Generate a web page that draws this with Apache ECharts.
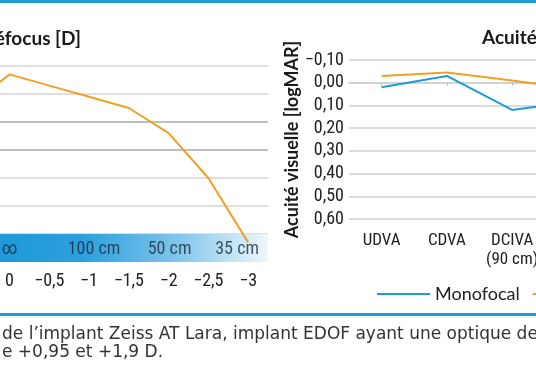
<!DOCTYPE html>
<html><head><meta charset="utf-8">
<script src="https://cdn.jsdelivr.net/npm/echarts@6/dist/echarts.min.js"></script>
<style>html,body{margin:0;padding:0;background:#fff}#c{width:536px;height:386px}</style>
</head><body><div id="c"></div>
<script>
// ---- data ----
const defocusD = [0.5, 0, -0.5, -1, -1.5, -2, -2.5, -3];
const defocusVA = [0.04, -0.07, -0.03, 0.01, 0.05, 0.14, 0.30, 0.53];
const bandLabels = ['∞', '100 cm', '50 cm', '35 cm'];
const bandD = [0, -1, -2, -3];
const vaCategories = ['UDVA', 'CDVA', 'DCIVA\n(90 cm)', 'DCNVA\n(40 cm)'];
const monofocalVA = [0.02, -0.03, 0.12, 0.08];
const atLaraVA = [-0.03, -0.045, -0.01, 0.03];
const seriesNames = ['Monofocal', 'AT LARA'];

// ---- styles ----
const BLUE = '#1f9bd7', ORANGE = '#f0a024', GRID = '#cfcfcf';
const COND = '"Roboto Condensed", "DejaVu Sans Condensed", sans-serif';
const HEAD = 'Lato, "Noto Sans", sans-serif';
const bandOffsets = [[0, 0], [5, 0], [1, 0], [-11, 0]];

function fmtD(v) {
  if (Math.abs(v * 2 - Math.round(v * 2)) > 1e-6) return '';
  if (v > 1e-6 || v < -3 - 1e-6) return '';
  if (Math.abs(v) < 1e-6) return '0';
  return '\u2212' + String(Math.abs(v)).replace('.', ',');
}
function fmtVA(v) {
  const s = Math.abs(v).toFixed(2).replace('.', ',');
  return (v < -1e-6 ? '\u2212' : '') + s;
}

const chart = echarts.init(document.getElementById('c'), null, {renderer: 'canvas'});
chart.setOption({
  animation: false,
  title: [
    {text: 'Courbe de défocus [D]', right: 450, top: 24,
     textStyle: {fontFamily: HEAD, fontWeight: 'bold', fontSize: 19, color: '#1a1a1a'}},
    {text: 'Acuité visuelle', left: 477, top: 23,
     textStyle: {fontFamily: HEAD, fontWeight: 'bold', fontSize: 19, color: '#1a1a1a'}}
  ],
  legend: {
    data: seriesNames, left: 372, top: 280, width: 500, icon: 'rect', itemWidth: 53, itemHeight: 2, itemGap: 13,
    textStyle: {fontFamily: HEAD, fontSize: 18, color: '#222'}
  },
  grid: [
    {left: -70, width: 338, top: 66, height: 196, outerBoundsMode: 'none', containLabel: false},
    {left: 349, width: 261, top: 60, height: 159, outerBoundsMode: 'none', containLabel: false}
  ],
  xAxis: [
    {gridIndex: 0, type: 'value', inverse: true, min: -3.25, max: 1, interval: 0.25,
     axisLine: {show: false}, axisTick: {show: false}, splitLine: {show: false},
     axisLabel: {formatter: fmtD, margin: 10, fontFamily: COND, fontSize: 18, color: '#222'}},
    {gridIndex: 1, type: 'category', data: vaCategories, boundaryGap: true,
     axisLine: {show: true, lineStyle: {color: GRID, width: 1.5}},
     axisTick: {show: true, alignWithLabel: true, interval: 0, length: 3, lineStyle: {color: '#bbb'}},
     axisLabel: {interval: 0, hideOverlap: false, margin: 12, fontFamily: COND, fontSize: 17, color: '#222', lineHeight: 19}}
  ],
  yAxis: [
    {gridIndex: 0, type: 'value', inverse: true, min: -0.1, max: 0.6, interval: 0.1,
     axisLine: {show: false}, axisTick: {show: false}, axisLabel: {show: false},
     splitLine: {show: true, lineStyle: {color: ['#d4d4d4', '#d4d4d4', '#a8a8a8', '#a8a8a8', '#d4d4d4', '#d4d4d4', '#d4d4d4', 'rgba(0,0,0,0)'], width: 1.5}}},
    {gridIndex: 1, type: 'value', inverse: true, min: -0.1, max: 0.6, interval: 0.1,
     name: 'Acuité visuelle [logMAR]', nameLocation: 'middle', nameRotate: 90, nameGap: 44,
     nameTextStyle: {fontFamily: HEAD, fontWeight: 'bold', fontSize: 18, color: '#1a1a1a'},
     axisLine: {show: false}, axisTick: {show: false},
     axisLabel: {formatter: fmtVA, margin: 5, fontFamily: COND, fontSize: 18, color: '#222'},
     splitLine: {show: true, lineStyle: {color: GRID, width: 1.5}}}
  ],
  series: [
    {name: 'Défocus', type: 'line', xAxisIndex: 0, yAxisIndex: 0, symbol: 'none', z: 5,
     data: defocusD.map((d, i) => [d, defocusVA[i]]),
     lineStyle: {color: ORANGE, width: 2},
     markArea: {silent: true, z: 1,
       itemStyle: {color: new echarts.graphic.LinearGradient(0, 0, 1, 0, [
         {offset: 0, color: '#1593d4'}, {offset: 0.45, color: '#2ba0dc'},
         {offset: 0.72, color: '#7cc3ea'}, {offset: 1, color: '#eef7fc'}])},
       data: [[{yAxis: 0.5}, {yAxis: 0.6}]]}},
    {name: 'bands', type: 'scatter', xAxisIndex: 0, yAxisIndex: 0, symbolSize: 0, z: 4,
     data: bandD.map((d, i) => ({value: [d, 0.555],
       label: {show: true, position: 'inside', formatter: bandLabels[i], offset: bandOffsets[i],
         fontFamily: COND, fontSize: 18, color: '#1b2a3c'}}))},
    {name: seriesNames[0], type: 'line', xAxisIndex: 1, yAxisIndex: 1, symbol: 'none',
     data: monofocalVA, color: BLUE, lineStyle: {color: BLUE, width: 2}},
    {name: seriesNames[1], type: 'line', xAxisIndex: 1, yAxisIndex: 1, symbol: 'none',
     data: atLaraVA, color: ORANGE, lineStyle: {color: ORANGE, width: 2}}
  ],
  graphic: [
    {type: 'rect', shape: {x: 0, y: 0, width: 536, height: 3}, style: {fill: BLUE}},
    {type: 'rect', shape: {x: 0, y: 313, width: 536, height: 3}, style: {fill: BLUE}},
    {type: 'text', left: 2, top: 326, style: {text: 'de l’implant Zeiss AT Lara, implant EDOF ayant une optique de',
      font: '17px "DejaVu Sans", sans-serif', fill: '#333'}},
    {type: 'text', left: 2, top: 344, style: {text: 'e +0,95 et +1,9 D.',
      font: '17px "DejaVu Sans", sans-serif', fill: '#333'}}
  ]
});
</script></body></html>
